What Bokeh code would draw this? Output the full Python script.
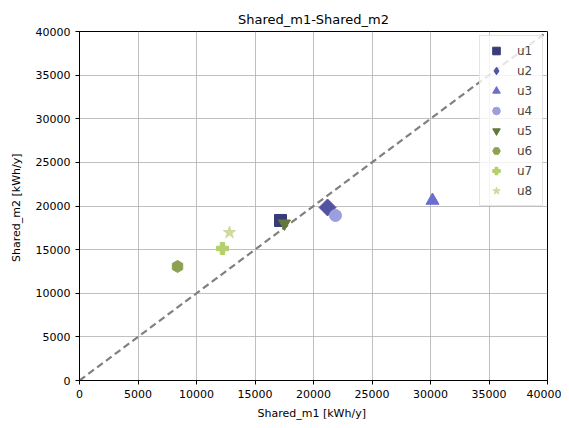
import math
from bokeh.plotting import figure
from bokeh.models import Range1d, FixedTicker, Legend, LegendItem
from bokeh.embed import file_html
from bokeh.resources import INLINE

names = ["u1", "u2", "u3", "u4", "u5", "u6", "u7", "u8"]
xs = [17180, 21200, 30170, 21880, 17520, 8380, 12220, 12820]
ys = [18340, 19830, 20630, 18910, 18000, 13070, 15130, 16960]
markers = ["square", "square", "triangle", "circle", "inverted_triangle", "hex", "plus", "star"]
angles = [0, math.pi / 4, 0, 0, 0, math.pi / 2, 0, 0]
colors = ["#393b79", "#5254a3", "#6b6ecf", "#9c9ede", "#637939", "#8ca252", "#b5cf6b", "#cedb9c"]
sizes = [12, 12, 13, 12, 12, 12, 12, 13]
ticks = [0, 5000, 10000, 15000, 20000, 25000, 30000, 35000, 40000]

p = figure(width=561, height=422, output_backend="svg", toolbar_location=None,
           x_range=Range1d(0, 40000), y_range=Range1d(0, 40000),
           min_border_left=79, min_border_right=14, min_border_top=31, min_border_bottom=42,
           title="Shared_m1-Shared_m2")
p.title.align = "center"
p.title.text_font = "DejaVu Sans"
p.title.text_font_size = "13px"
p.title.text_font_style = "normal"
p.title.text_color = "black"
p.title.offset = 0

for ax in (p.xaxis, p.yaxis):
    ax.ticker = FixedTicker(ticks=ticks)
    ax.major_label_text_font = "DejaVu Sans"
    ax.major_label_text_font_size = "11px"
    ax.major_label_text_color = "black"
    ax.axis_label_text_font = "DejaVu Sans"
    ax.axis_label_text_font_size = "11px"
    ax.axis_label_text_font_style = "normal"
    ax.axis_label_text_color = "black"
    ax.minor_tick_line_color = None
    ax.major_tick_out = 4
    ax.major_tick_in = 0
    ax.axis_line_color = "black"
    ax.major_tick_line_color = "black"
p.xaxis.axis_label = "Shared_m1  [kWh/y]"
p.yaxis.axis_label = "Shared_m2  [kWh/y]"
p.xaxis.axis_label_standoff = 6
p.yaxis.axis_label_standoff = 10

p.grid.grid_line_color = "#b0b0b0"
p.grid.grid_line_alpha = 0.8
p.outline_line_color = "black"
p.outline_line_alpha = 1

p.line([0, 40000], [0, 40000], line_color="gray", line_width=2.2, line_dash="7 4")

items = []
for n, x, y, m, a, c, s in zip(names, xs, ys, markers, angles, colors, sizes):
    r = p.scatter([x], [y], marker=m, size=s, angle=a, fill_color=c, line_color=c)
    if n == "u2":
        lr = p.scatter([float("nan")], [float("nan")], marker="diamond", size=17,
                       fill_color=c, line_color=c)
        items.append(LegendItem(label=n, renderers=[lr]))
    else:
        items.append(LegendItem(label=n, renderers=[r]))

legend = Legend(items=items, location="top_right")
legend.label_text_font = "DejaVu Sans"
legend.label_text_font_size = "12px"
legend.spacing = 1
legend.glyph_height = 19
legend.glyph_width = 22
legend.label_height = 19
legend.label_standoff = 10
legend.padding = 5
legend.margin = 4
legend.border_line_color = "#cccccc"
legend.background_fill_alpha = 0.8
p.add_layout(legend)

open("out.html", "w").write(file_html(p, INLINE))
